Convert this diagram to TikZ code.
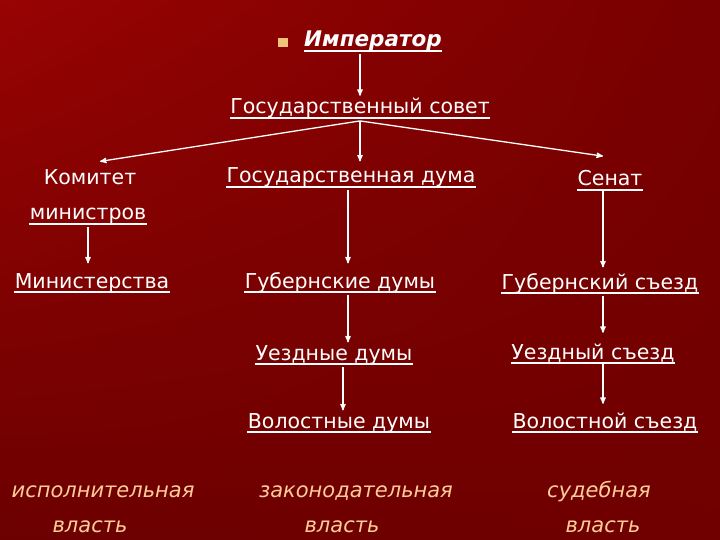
\documentclass[tikz,border=0pt]{standalone}
\usepackage{fontspec}
\setmainfont{DejaVu Sans}
\usetikzlibrary{arrows,shadings}
\definecolor{bgul}{HTML}{980303}
\definecolor{bgur}{HTML}{780000}
\definecolor{bgll}{HTML}{6C0000}
\definecolor{bglr}{HTML}{700000}
\definecolor{peach}{HTML}{FFCC99}
\definecolor{bullet}{HTML}{F2C27A}

\begin{document}
\begin{tikzpicture}[x=1pt,y=-1pt,
    lbl/.style={anchor=base,inner xsep=0pt,inner ysep=2pt,text=white,
      font=\fontsize{20.5}{24}\selectfont},
    ul/.style={append after command={([yshift=-4pt]\tikzlastnode.base west)
      edge[-,line width=1.3pt] ([yshift=-4pt]\tikzlastnode.base east)}},
    vl/.style={anchor=base,inner sep=2pt,text=peach,
      font=\fontsize{21}{24}\selectfont\itshape},
    white,line width=1.3pt,->,>=stealth']
    \useasboundingbox (0,0) rectangle (720,540);
    \shade[upper left=bgul,upper right=bgur,lower left=bgll,lower right=bglr]
      (0,0) rectangle (720,540);
    % top
    \fill[bullet] (278,38) rectangle (288,47);
    \node[lbl,ul,font=\fontsize{21.5}{24}\selectfont\bfseries\itshape] (imp) at (373,47) {Император};
    \node[lbl,ul] (gs) at (360,114) {Государственный совет};
    % second row
    \node[lbl] (km) at (90,185) {Комитет};
    \node[lbl,ul] (min) at (88,220) {министров};
    \node[lbl,ul] (gd) at (351,183) {Государственная дума};
    \node[lbl,ul] (sen) at (610,186) {Сенат};
    % lower rows
    \node[lbl,ul] (mst) at (92,288) {Министерства};
    \node[lbl,ul] (gbd) at (340,288) {Губернские думы};
    \node[lbl,ul] (gbs) at (600,289) {Губернский съезд};
    \node[lbl,ul] (uzd) at (334,360) {Уездные думы};
    \node[lbl,ul] (uzs) at (593,359) {Уездный съезд};
    \node[lbl,ul] (vld) at (339,428) {Волостные думы};
    \node[lbl,ul] (vls) at (605,428) {Волостной съезд};
    % branches of power
    \node[vl] (isp) at (103,497) {исполнительная};
    \node[vl] (isp2) at (90,532) {власть};
    \node[vl] (zak) at (356,497) {законодательная};
    \node[vl] (zak2) at (342,532) {власть};
    \node[vl] (sud) at (599,497) {судебная};
    \node[vl] (sud2) at (603,532) {власть};
    % arrows
    \draw (imp.south -| gs.north) -- (gs.north);
    \draw (gs.south) -- ([shift={(10pt,6pt)}]km.north);
    \draw (gs.south) -- ([shift={(-7pt,12pt)}]sen.north);
    \draw[shorten >=4pt] (gs.south) -- (gs.south |- gd.north);
    \draw[shorten >=7pt] (min.south) -- (min.south |- mst.north);
    \draw[shorten >=6pt] ([xshift=-3pt]gd.south) -- ([xshift=-3pt]gd.south |- gbd.north);
    \draw ([xshift=8pt]gbd.south) -- ([xshift=8pt]gbd.south |- uzd.north);
    \draw ([xshift=9pt]uzd.south) -- ([xshift=9pt]uzd.south |- vld.north);
    \draw[shorten >=3pt] ([xshift=-7pt]sen.south) -- ([xshift=-7pt]sen.south |- gbs.north);
    \draw[shorten >=8pt] ([xshift=3pt]gbs.south) -- ([xshift=3pt]gbs.south |- uzs.north);
    \draw[shorten >=6pt] ([xshift=10pt]uzs.south) -- ([xshift=10pt]uzs.south |- vls.north);
\end{tikzpicture}
\end{document}
